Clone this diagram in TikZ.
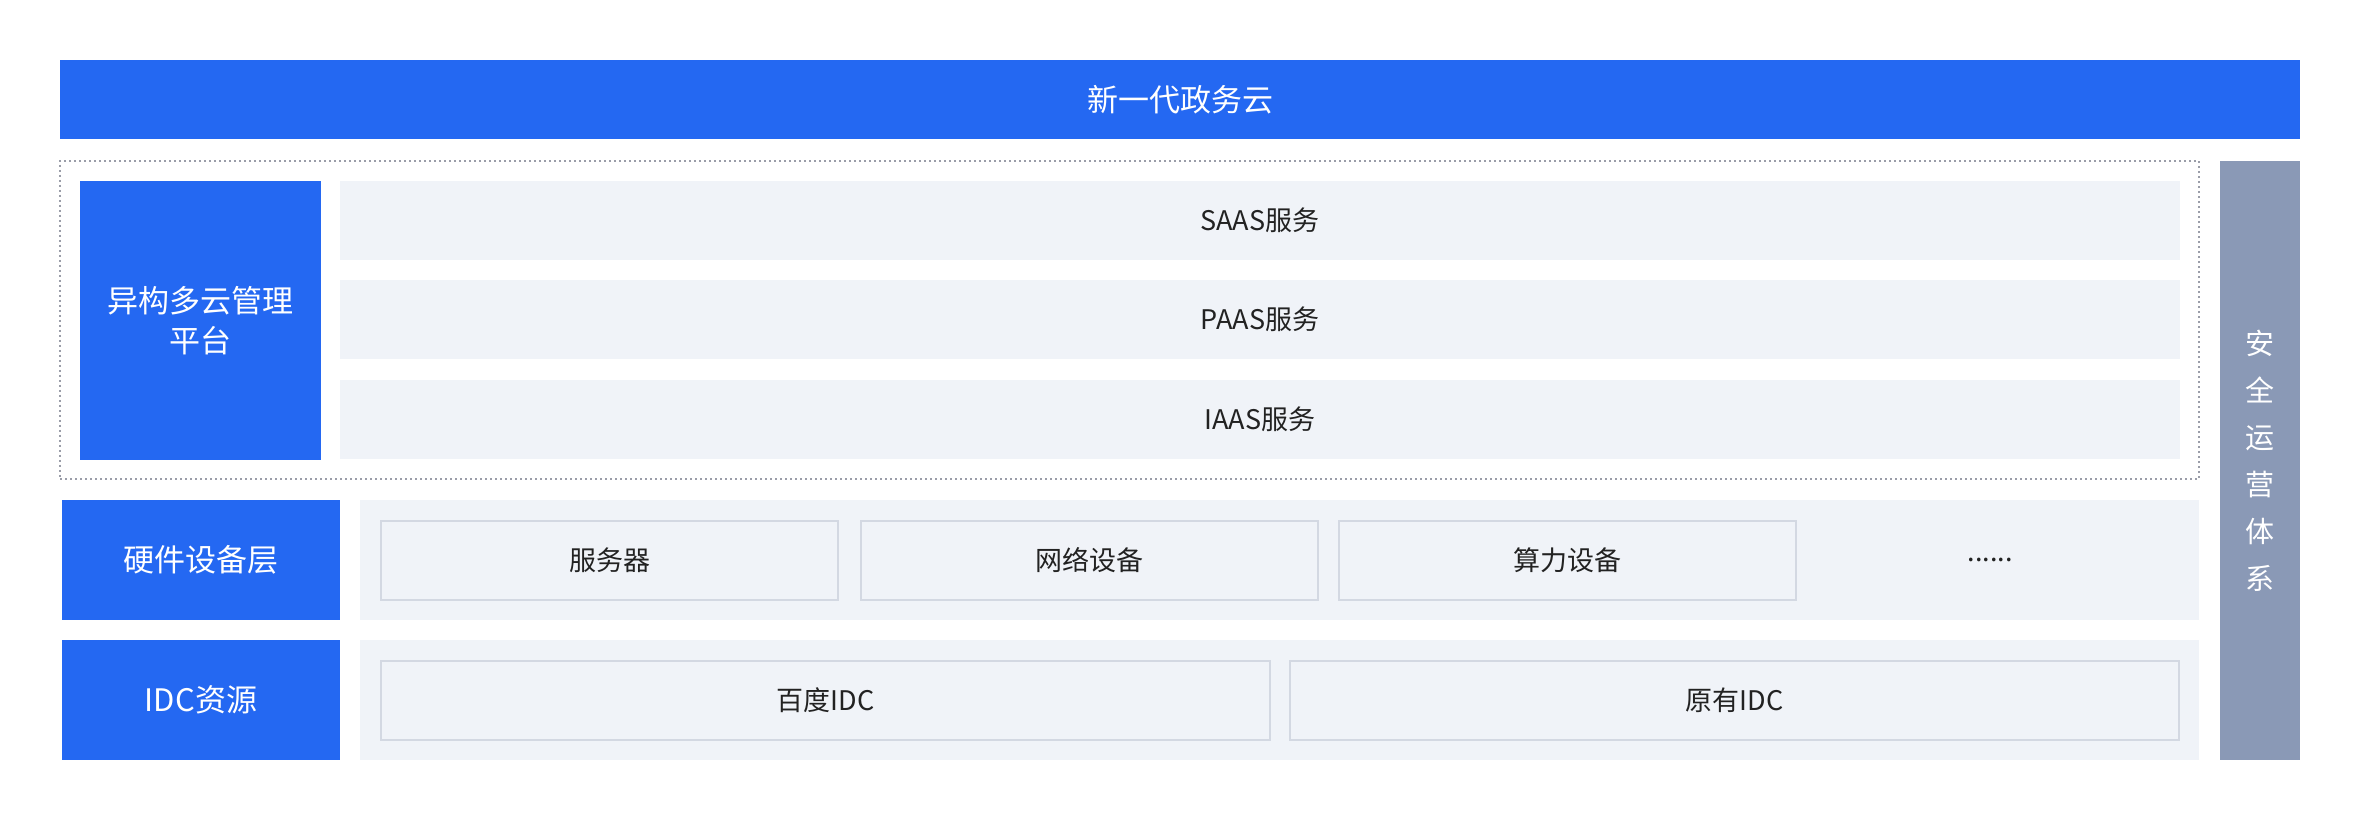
\documentclass[tikz,border=0pt]{standalone}
\usepackage{fontspec}
\setmainfont{Noto Sans CJK SC}
\usepackage{tikz}

\definecolor{cloudblue}{HTML}{2468F2}
\definecolor{layerbg}{HTML}{F0F3F8}
\definecolor{secgray}{HTML}{8A99B6}
\definecolor{cellline}{HTML}{D3D8E2}
\definecolor{dotgray}{HTML}{9A9DA8}
\definecolor{textdark}{HTML}{222222}

\begin{document}
\begin{tikzpicture}[x=0.5pt,y=-0.5pt,
					every node/.style={anchor=north west,inner sep=0pt,outer sep=0pt},
					blue node/.style={fill=cloudblue,text=white,align=center,
						font=\fontsize{15.5}{20}\selectfont},
					layer node/.style={fill=layerbg,text=textdark,
						font=\fontsize{13.5}{16}\selectfont},
					cell node/.style={draw=cellline,line width=1.2pt,fill=layerbg,text=textdark,
						font=\fontsize{13.5}{16}\selectfont}]

  \useasboundingbox[fill=white] (0,0) rectangle (2360,820);

  % top
  \node[blue node,minimum width=1120pt,minimum height=39.5pt] (cloud) at (60,60) {新一代政务云};

  % management block
  \node[draw=dotgray,line width=0.9pt,dash pattern=on 0.9pt off 1.6pt,
        minimum width=1069.5pt,minimum height=159pt] (frame) at (60,161) {};
  \node[blue node,minimum width=120.5pt,minimum height=139.5pt] (mgmt) at (80,181) {异构多云管理\\平台};
  \node[layer node,minimum width=920pt,minimum height=39.5pt] (saas) at (340,181) {SAAS服务};
  \node[layer node,minimum width=920pt,minimum height=39.5pt] (paas) at (340,280) {PAAS服务};
  \node[layer node,minimum width=920pt,minimum height=39.5pt] (iaas) at (340,380) {IAAS服务};

  % hardware
  \node[blue node,minimum width=139pt,minimum height=60pt] (hw) at (62,500) {硬件设备层};
  \node[layer node,minimum width=919.5pt,minimum height=60pt] (hwbg) at (360,500) {};
  \node[cell node,minimum width=228.5pt,minimum height=39.5pt] (server) at (381,521) {服务器};
  \node[cell node,minimum width=228.5pt,minimum height=39.5pt] (net) at (861,521) {网络设备};
  \node[cell node,minimum width=228.5pt,minimum height=39.5pt] (compute) at (1339,521) {算力设备};
  \node[text=textdark,anchor=center,font=\fontsize{13.5}{16}\selectfont] (more) at (1990,560) {......};

  % idc
  \node[blue node,minimum width=139pt,minimum height=60pt] (idc) at (62,640) {IDC资源};
  \node[layer node,minimum width=919.5pt,minimum height=60pt] (idcbg) at (360,640) {};
  \node[cell node,minimum width=444.5pt,minimum height=39.5pt] (baidu) at (381,661) {百度IDC};
  \node[cell node,minimum width=444.5pt,minimum height=39.5pt] (old) at (1290,661) {原有IDC};

  % security
  \node[fill=secgray,text=white,align=center,font=\fontsize{14.5}{23.5}\selectfont,
        minimum width=40pt,minimum height=299.5pt] (sec) at (2220,161) {安\\全\\运\\营\\体\\系};
\end{tikzpicture}
\end{document}
